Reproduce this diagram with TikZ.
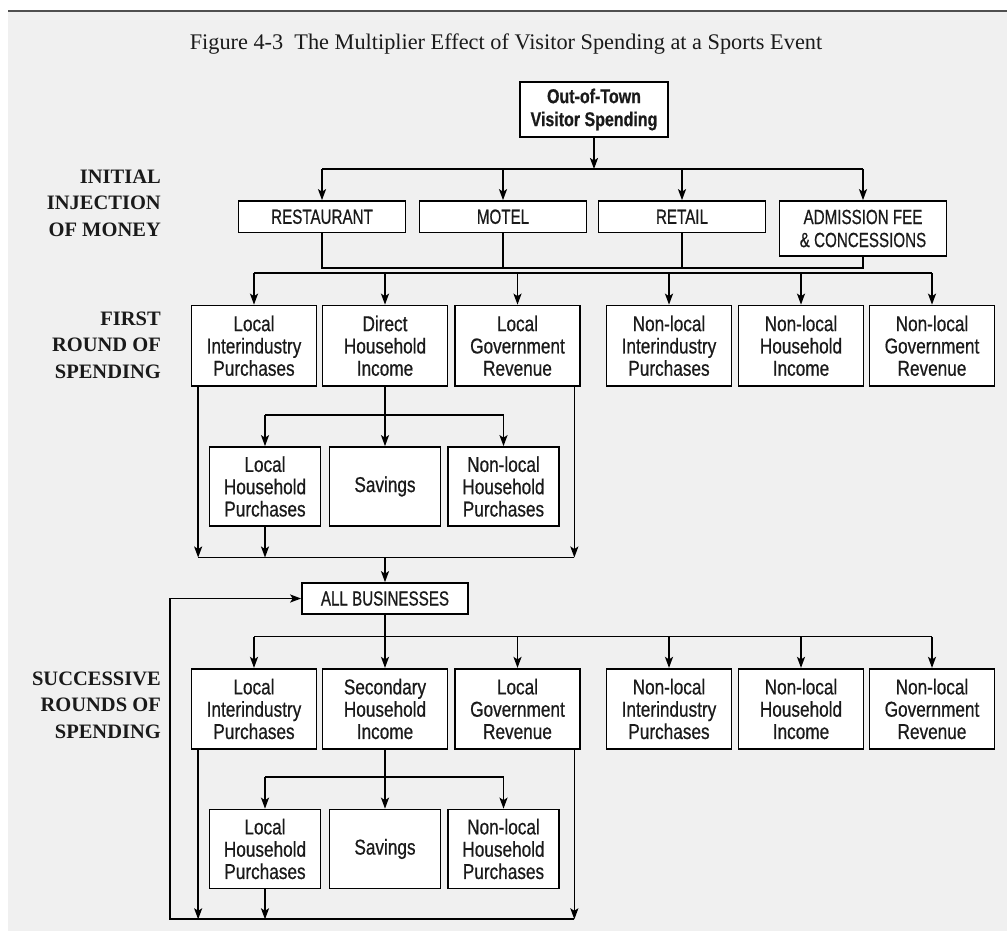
\documentclass[tikz,border=0pt]{standalone}
\usepackage{fontspec}
\setmainfont{Liberation Serif}
\newfontfamily\bxf{Liberation Sans}[FakeStretch=0.8, FakeBold=0.6]
\newfontfamily\cpf{Liberation Sans}[FakeStretch=0.74, FakeBold=0.6]
\usetikzlibrary{arrows.meta}
\definecolor{bgc}{HTML}{F0F0F0}
\definecolor{topc}{HTML}{505050}
\definecolor{txc}{HTML}{1A1A1A}
\tikzset{
  bx/.style={draw, fill=white, line width=1.7pt, inner sep=0pt, align=center, text=txc,
    minimum height=80.5pt, minimum width=125pt, font=\bxf\fontsize{21.5}{22.3}\selectfont},
  cbx/.style={bx, minimum width=167pt, minimum height=31.5pt, font=\cpf\fontsize{20.5}{23}\selectfont},
  sbx/.style={bx, minimum width=111pt, minimum height=79pt},
  ln/.style={line width=1.7pt},
  arr/.style={ln, -{Stealth[length=11pt,width=8pt,inset=2.5pt]}},
  lbl/.style={anchor=east, align=right, inner sep=0pt, text=txc, font=\bfseries\fontsize{20.5}{26.5}\selectfont}
}
\begin{document}
\begin{tikzpicture}[x=1pt,y=-1pt]
\useasboundingbox (0,0) rectangle (1007,931);
\fill[white] (0,0) rectangle (1007,931);
\fill[bgc] (8,11) rectangle (1007,931);
\draw[line width=2pt, topc] (8,11) -- (1007,11);
\node[inner sep=0pt, text=txc, font=\fontsize{22.3}{24}\selectfont] (title) at (506,44)
  {Figure 4-3\enspace The Multiplier Effect of Visitor Spending at a Sports Event};

% left labels
\node[lbl] (l1) at (161,203) {INITIAL\\INJECTION\\OF MONEY};
\node[lbl] (l2) at (161,345) {FIRST\\ROUND OF\\SPENDING};
\node[lbl] (l3) at (161,705) {SUCCESSIVE\\ROUNDS OF\\SPENDING};

% coordinates for buses
\coordinate (b1) at (0,169);
\coordinate (c1) at (0,268);
\coordinate (d1) at (0,273.3);
\coordinate (s1) at (0,415);
\coordinate (k1) at (0,557.5);
\coordinate (d2) at (0,636.5);
\coordinate (s2) at (0,777);
\coordinate (k2) at (0,919.3);

% top
\node[bx, minimum width=148pt, minimum height=55pt, font=\bxf\bfseries\fontsize{20}{23}\selectfont] (top) at (594,109.5) {Out-of-Town\\Visitor Spending};

% initial injection
\node[cbx] (rest) at (322,216.75) {RESTAURANT};
\node[cbx] (motel) at (503,216.75) {MOTEL};
\node[cbx] (retail) at (682,216.75) {RETAIL};
\node[cbx, minimum height=55pt] (adm) at (863,228.5) {ADMISSION FEE\\\& CONCESSIONS};

\draw[arr] (top.south) -- (top.south|-b1);
\draw[ln] (rest.north|-b1) -- (adm.north|-b1);
\foreach \n in {rest,motel,retail,adm} \draw[arr] (\n.north|-b1) -- (\n.north);
\draw[ln] (rest.south) |- (adm.south|-c1) -- (adm.south);
\draw[ln] (motel.south) -- (motel.south|-c1);
\draw[ln] (retail.south) -- (retail.south|-c1);

% first round
\node[bx] (lii) at (254,345.75) {Local\\Interindustry\\Purchases};
\node[bx] (dhi) at (385,345.75) {Direct\\Household\\Income};
\node[bx] (lgr) at (517.5,345.75) {Local\\Government\\Revenue};
\node[bx] (nli) at (669,345.75) {Non-local\\Interindustry\\Purchases};
\node[bx] (nlh) at (801,345.75) {Non-local\\Household\\Income};
\node[bx] (nlg) at (932,345.75) {Non-local\\Government\\Revenue};

\draw[ln] (lii.north|-d1) -- (nlg.north|-d1);
\foreach \n in {lii,dhi,lgr,nli,nlh,nlg} \draw[arr] (\n.north|-d1) -- (\n.north);

\node[sbx] (lhp) at (265,486.5) {Local\\Household\\Purchases};
\node[sbx] (sav) at (385,486.5) {Savings};
\node[sbx] (nhp) at (503.5,486.5) {Non-local\\Household\\Purchases};

\draw[ln] (dhi.south) -- (dhi.south|-s1);
\draw[ln] (lhp.north|-s1) -- (nhp.north|-s1);
\foreach \n in {lhp,sav,nhp} \draw[arr] (\n.north|-s1) -- (\n.north);

\coordinate (L1) at ([xshift=7.5pt]lii.south west);
\coordinate (R1) at ([xshift=-6.5pt]lgr.south east);
\draw[arr] (L1) -- (L1|-k1);
\draw[arr] (R1) -- (R1|-k1);
\draw[arr] (lhp.south) -- (lhp.south|-k1);
\draw[ln] (L1|-k1) -- (R1|-k1);

% all businesses
\node[cbx, minimum width=166pt, minimum height=31pt] (ab) at (385,598.5) {ALL BUSINESSES};
\draw[arr] (ab.north|-k1) -- (ab.north);

% successive rounds
\node[bx] (lii2) at (254,709) {Local\\Interindustry\\Purchases};
\node[bx] (shi) at (385,709) {Secondary\\Household\\Income};
\node[bx] (lgr2) at (517.5,709) {Local\\Government\\Revenue};
\node[bx] (nli2) at (669,709) {Non-local\\Interindustry\\Purchases};
\node[bx] (nlh2) at (801,709) {Non-local\\Household\\Income};
\node[bx] (nlg2) at (932,709) {Non-local\\Government\\Revenue};

\draw[ln] (ab.south) -- (ab.south|-d2);
\draw[ln] (lii2.north|-d2) -- (nlg2.north|-d2);
\foreach \n in {lii2,shi,lgr2,nli2,nlh2,nlg2} \draw[arr] (\n.north|-d2) -- (\n.north);

\node[sbx] (lhp2) at (265,849) {Local\\Household\\Purchases};
\node[sbx] (sav2) at (385,849) {Savings};
\node[sbx] (nhp2) at (503.5,849) {Non-local\\Household\\Purchases};

\draw[ln] (shi.south) -- (shi.south|-s2);
\draw[ln] (lhp2.north|-s2) -- (nhp2.north|-s2);
\foreach \n in {lhp2,sav2,nhp2} \draw[arr] (\n.north|-s2) -- (\n.north);

\coordinate (L2) at ([xshift=7.5pt]lii2.south west);
\coordinate (R2) at ([xshift=-6.5pt]lgr2.south east);
\coordinate (fb) at (170,919.3);
\draw[arr] (L2) -- (L2|-k2);
\draw[arr] (R2) -- (R2|-k2);
\draw[arr] (lhp2.south) -- (lhp2.south|-k2);
\draw[arr] (R2|-k2) -- (fb) |- (ab.west);
\end{tikzpicture}
\end{document}
